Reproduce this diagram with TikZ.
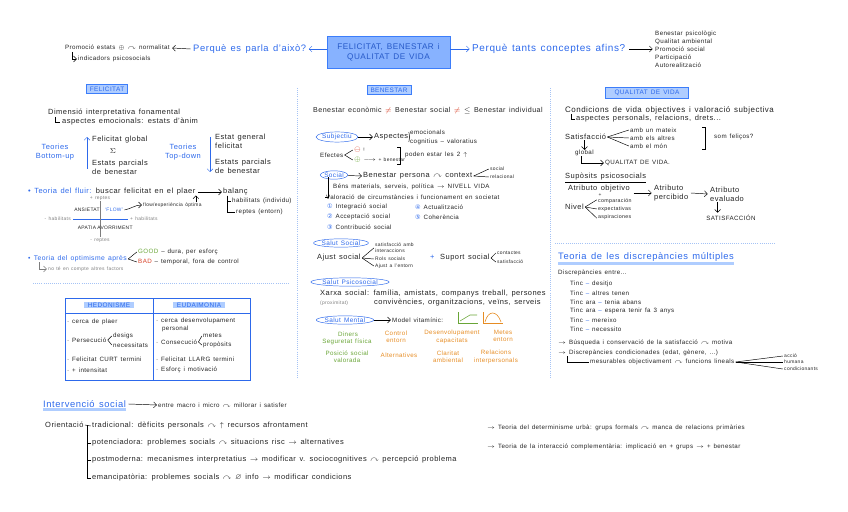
\documentclass[tikz,border=0pt]{standalone}
\usepackage{amssymb}
\usepackage{fontspec}
\setmainfont{Liberation Sans}[LetterSpace=6, WordSpace=1.4]
\newfontfamily\symfont{DejaVu Sans}
\usetikzlibrary{arrows.meta,positioning,shapes.geometric}
\definecolor{penblue}{RGB}{45,105,235}
\definecolor{boxblue}{RGB}{60,125,250}
\definecolor{titleblue}{RGB}{135,178,255}
\definecolor{hlblue}{RGB}{175,205,255}
\definecolor{sepblue}{RGB}{165,195,245}
\definecolor{greenpen}{RGB}{105,165,55}
\definecolor{orangepen}{RGB}{230,140,35}
\definecolor{redpen}{RGB}{215,65,40}
\definecolor{graypen}{RGB}{125,125,125}
\definecolor{inkblack}{RGB}{35,35,35}
\newcommand{\nx}{$\curvearrowright$}
\newcommand{\cnum}[1]{{\symfont\color{penblue}#1}}

\begin{document}
\begin{tikzpicture}[x=0.03cm, y=-0.03cm, text=inkblack,
	txt/.style={anchor=west, inner sep=0pt, font=\fontsize{6.4}{7.4}\selectfont, align=left},
	sm/.style={txt, font=\fontsize{5.3}{6.3}\selectfont},
	xs/.style={txt, font=\fontsize{4.2}{5}\selectfont},
	pen/.style={txt, text=penblue},
	big/.style={pen, font=\fontsize{8}{9}\selectfont},
	hdr/.style={draw=boxblue, fill=hlblue, text=penblue, inner xsep=3pt, inner ysep=2pt, font=\fontsize{5.5}{6}\selectfont, line width=0.6pt},
	oval/.style={ellipse, draw=penblue, text=penblue, inner xsep=0pt, inner ysep=0.5pt, font=\fontsize{5.5}{6}\selectfont},
	arr/.style={-{Straight Barb[length=2.5pt]}, line width=0.4pt},
	ln/.style={line width=0.4pt},
	sep/.style={draw=sepblue, densely dotted, line width=0.8pt}
]
\useasboundingbox (0,0) rectangle (848,512);

% top line
\node[draw=boxblue, fill=titleblue, text=penblue!85!black, line width=0.8pt, minimum width=3.69cm, minimum height=0.96cm, align=center, font=\fontsize{7}{8.5}\selectfont] (title) at (388.5,52) {FELICITAT, BENESTAR i\\QUALITAT DE VIDA};
\node[big] (whyQ) at (193,49) {Perquè es parla d'això?};
\node[sm] (promo) at (65,48) {Promoció estats $\oplus$ \nx{} normalitat};
\node[sm] (indic) at (78,59) {indicadors psicosocials};
\node[big, font=\fontsize{8.5}{9}\selectfont] (manyQ) at (472,49) {Perquè tants conceptes afins?};
\node[sm, font=\fontsize{5.3}{6.8}\selectfont] (concepts) at (655,49) {Benestar psicològic\\Qualitat ambiental\\Promoció social\\Participació\\Autorealització};
\draw[arr, penblue] (title.west |- whyQ.east) -- ([xshift=2pt]whyQ.east);
\draw[arr] ([xshift=-2pt]whyQ.west) -- ([xshift=2pt]promo.east);
\draw[arr] (72,52) |- ([xshift=-1pt]indic.west);
\draw[arr, penblue] (title.east |- manyQ.west) -- ([xshift=-2pt]manyQ.west);
\draw[arr] ([xshift=3pt]manyQ.east) -- ([xshift=-2pt]concepts.west);

% separators
\draw[sep] (297,88) -- (297,378);
\draw[sep] (550,88) -- (550,378);
\draw[sep] (33,283) -- (290,283);
\draw[sep] (555,243) -- (775,243);

% FELICITAT
\node[hdr] (felHdr) at (107,89) {FELICITAT};
\node[txt] (dimInt) at (48,113) {Dimensió interpretativa fonamental};
\node[txt] (aspEmo) at (62,122) {aspectes emocionals: estats d'ànim};
\draw[ln] ([xshift=6pt]dimInt.south west) |- ([xshift=-2pt]aspEmo.west);
\node[pen, anchor=center, align=center] (teoBU) at (55,152) {Teories\\Bottom-up};
\node[pen, anchor=center, align=center] (teoTD) at (183,152) {Teories\\Top-down};
\coordinate (buBot) at (87,169);
\coordinate (buTop) at (87,137);
\draw[arr, penblue] (buBot) -- (buTop);
\node[txt] (felGlob) at (92,140) {Felicitat global};
\node[txt, anchor=center] (sigma) at (113,151) {$\Sigma$};
\node[txt] (estParcA) at (92,167) {Estats parcials\\de benestar};
\coordinate (tdTop) at (210,137);
\coordinate (tdBot) at (210,172);
\draw[arr, penblue] (tdTop) -- (tdBot);
\node[txt] (estGen) at (215,141) {Estat general\\felicitat};
\node[txt] (estParcB) at (215,166) {Estats parcials\\de benestar};

\node[txt] (flow) at (28,192) {{\color{penblue}• Teoria del fluir:} buscar felicitat en el plaer};
\node[txt] (balanc) at (223,192) {balanç};
\draw[arr] ([xshift=2pt]flow.east) -- ([xshift=-1pt]balanc.west);
\node[sm] (habil) at (232,201) {habilitats (individu)};
\node[sm] (reptes) at (236,212) {reptes (entorn)};
\draw[ln] ([xshift=4pt]balanc.south west) |- ([xshift=-1pt]habil.west);
\draw[ln] ([xshift=4pt]balanc.south west) |- ([xshift=-1pt]reptes.west);
\node[xs] (flowExp) at (143,205) {flow/experiència òptima};
\draw[arr] ([xshift=-5pt]flowExp.north east) -- ++(0,-7);
% quadrants
\draw[penblue, line width=0.5pt] (73,219) -- (128,219);
\draw[graypen, line width=0.5pt] (100,201) -- (100,237);
\node[xs, anchor=center, text=graypen] (repMes) at (100,198) {+ reptes};
\node[xs, anchor=center, text=graypen] (repMenys) at (100,240) {- reptes};
\node[xs, anchor=east, text=graypen] (habMenys) at (71,219) {- habilitats};
\node[xs, text=graypen] (habMes) at (130,219) {+ habilitats};
\node[xs, anchor=center] (ansiet) at (87,210) {ANSIETAT};
\node[xs, anchor=center, text=penblue] (flowQ) at (114,210) {`FLOW'};
\node[xs, anchor=center] (apatia) at (87,228) {APATIA};
\node[xs, anchor=center] (avorr) at (115,228) {AVORRIMENT};
\draw[arr] ([xshift=1pt]flowQ.east) to[out=10, in=180] ([xshift=-1pt]flowExp.west);

\node[pen, font=\fontsize{5.8}{7}\selectfont] (optim) at (28,259) {• Teoria del optimisme après};
\node[sm] (good) at (138,252) {{\color{greenpen}GOOD} – dura, per esforç};
\node[sm] (bad) at (138,262) {{\color{redpen}BAD} – temporal, fora de control};
\draw[ln] ([xshift=1pt]optim.east) -- ([xshift=-1pt]good.west);
\draw[ln] ([xshift=1pt]optim.east) -- ([xshift=-1pt]bad.west);
\node[xs, text=graypen] (factors) at (48,269) {no té en compte altres factors};
\draw[arr, graypen] ([xshift=10pt]optim.south west) |- ([xshift=-1pt]factors.west);

% taula
\draw[penblue, line width=0.6pt] (65,298) rectangle (250,380);
\draw[penblue, line width=0.6pt] (153,298) -- (153,380);
\draw[penblue, line width=0.6pt] (65,313) -- (250,313);
\node[hdr, draw=none, inner ysep=1pt] (hedon) at (109,305) {HEDONISME};
\node[hdr, draw=none, inner ysep=1pt] (eudai) at (199,305) {EUDAIMONIA};
\node[sm] (hA) at (67,322) {· cerca de plaer};
\node[sm] (hB) at (67,340) {· Persecució};
\node[sm] (hBd) at (113,336) {desigs};
\node[sm] (hBn) at (113,345) {necessitats};
\draw[ln] ([xshift=1pt]hB.east) -- ([xshift=-1pt]hBd.west);
\draw[ln] ([xshift=1pt]hB.east) -- ([xshift=-1pt]hBn.west);
\node[sm] (hC) at (67,359) {· Felicitat CURT termini};
\node[sm] (hD) at (67,370) {· + intensitat};
\node[sm] (eA) at (156,325) {· cerca desenvolupament\\\ \ personal};
\node[sm] (eB) at (156,342) {· Consecució};
\node[sm] (eBm) at (203,336) {metes};
\node[sm] (eBp) at (203,345) {propòsits};
\draw[ln] ([xshift=1pt]eB.east) -- ([xshift=-1pt]eBm.west);
\draw[ln] ([xshift=1pt]eB.east) -- ([xshift=-1pt]eBp.west);
\node[sm] (eC) at (156,359) {· Felicitat LLARG termini};
\node[sm] (eD) at (156,370) {· Esforç i motivació};

% BENESTAR
\node[hdr] (benHdr) at (389,90) {BENESTAR};
\node[txt, font=\fontsize{6.1}{7}\selectfont] (benEco) at (313,111) {Benestar econòmic {\color{redpen}$\neq$} Benestar social {\color{redpen}$\neq$} $\leq$ Benestar individual};
\node[oval] (subj) at (337,137) {Subjectiu};
\node[txt] (aspec) at (374,137) {Aspectes};
\node[sm] (emo) at (410,132) {emocionals};
\node[sm] (cog) at (410,142) {cognitius – valoratius};
\draw[arr] (subj) -- ([xshift=-1pt]aspec.west);
\draw[ln] ([xshift=1pt]aspec.east) -- ([xshift=-1pt]emo.west);
\draw[ln] ([xshift=1pt]aspec.east) -- ([xshift=-1pt]cog.west);
\node[sm] (efect) at (320,155) {Efectes};
\node[xs] (eNeg) at (354,150) {{\color{redpen}\fontsize{6}{6}\selectfont$\ominus$} !};
\node[xs] (ePos) at (354,160) {{\color{greenpen}\fontsize{6}{6}\selectfont$\oplus$} $\longrightarrow$ + benestar};
\draw[ln] ([xshift=1pt]efect.east) -- ([xshift=-1pt]eNeg.west);
\draw[ln] ([xshift=1pt]efect.east) -- ([xshift=-1pt]ePos.west);
\draw[ln] (397,147) -- (400,147) -- (400,164) -- (397,164);
\node[sm] (poden) at (405,155) {poden estar les 2 $\uparrow$};
\node[oval] (social) at (334,175) {Social};
\node[txt] (persCtx) at (363,176) {Benestar persona \nx{} context};
\node[xs] (sSoc) at (490,169) {social};
\node[xs] (sRel) at (490,177) {relacional};
\draw[arr] (social) -- ([xshift=-1pt]persCtx.west);
\draw[ln] ([xshift=1pt]persCtx.east) -- ([xshift=-1pt]sSoc.west);
\draw[ln] ([xshift=1pt]persCtx.east) -- ([xshift=-1pt]sRel.west);
\node[sm] (bens) at (333,187) {Béns materials, serveis, política $\rightarrow$ NIVELL VIDA};
\node[sm] (valor) at (326,197) {Valoració de circumstàncies i funcionament en societat};
\draw[ln] (social.south west) ++(4,-1) |- ([xshift=-1pt]valor.west);
\node[sm] (nA) at (327,207) {\cnum{①} Integració social};
\node[sm] (nB) at (327,217) {\cnum{②} Acceptació social};
\node[sm] (nC) at (327,227) {\cnum{③} Contribució social};
\node[sm] (nD) at (415,207) {\cnum{④} Actualització};
\node[sm] (nE) at (415,217) {\cnum{⑤} Coherència};

\node[oval] (salSoc) at (341,243) {Salut Social};
\node[txt] (ajust) at (317,258) {Ajust social};
\node[xs] (satInt) at (375,248) {satisfacció amb\\interaccions};
\node[xs] (rols) at (375,259) {Rols socials};
\node[xs] (ajEnt) at (375,266) {Ajust a l'entorn};
\draw[ln] ([xshift=1pt]ajust.east) -- ([xshift=-1pt]satInt.west);
\draw[ln] ([xshift=1pt]ajust.east) -- ([xshift=-1pt]rols.west);
\draw[ln] ([xshift=1pt]ajust.east) -- ([xshift=-1pt]ajEnt.west);
\node[pen] (plus) at (430,257) {+};
\node[txt] (suport) at (440,258) {Suport social};
\node[xs] (contac) at (497,253) {contactes};
\node[xs] (satisf) at (497,262) {satisfacció};
\draw[ln] ([xshift=1pt]suport.east) -- ([xshift=-1pt]contac.west);
\draw[ln] ([xshift=1pt]suport.east) -- ([xshift=-1pt]satisf.west);

\node[oval] (salPsi) at (350,282) {Salut Psicosocial};
\node[txt] (xarxa) at (320,294) {Xarxa social: família, amistats, companys treball, persones};
\node[xs, text=graypen] (prox) at (320,303) {(proximitat)};
\node[txt] (conv) at (374,303) {convivències, organitzacions, veïns, serveis};

\node[oval] (salMen) at (345,320) {Salut Mental};
\node[sm] (model) at (392,320) {Model vitamínic:};
\draw[arr] (salMen) -- ([xshift=-1pt]model.west);
\draw[greenpen, line width=0.5pt] (458,312) -- (458,323) -- (478,323);
\draw[greenpen, line width=0.5pt] (460,321) -- (470,315) -- (477,315);
\draw[orangepen, line width=0.5pt] (483,312) -- (483,323) -- (503,323);
\draw[orangepen, line width=0.5pt] (485,322) .. controls (488,310) and (497,310) .. (501,322);
\begin{scope}[every node/.style={sm, anchor=center, align=center}]
	\node[text=greenpen] (diners) at (348,334) {Diners};
	\node[text=greenpen] (segur) at (347,342) {Seguretat física};
	\node[text=greenpen] (posic) at (347,357) {Posició social\\valorada};
	\node[text=orangepen] (contr) at (396,337) {Control\\entorn};
	\node[text=orangepen] (desen) at (452,337) {Desenvolupament\\capacitats};
	\node[text=orangepen] (metes) at (503,336) {Metes\\entorn};
	\node[text=orangepen] (altern) at (399,355) {Alternatives};
	\node[text=orangepen] (clar) at (448,357) {Claritat\\ambiental};
	\node[text=orangepen] (relac) at (496,357) {Relacions\\interpersonals};
\end{scope}

% QUALITAT DE VIDA
\node[hdr, minimum width=2.49cm] (qvHdr) at (647,93) {QUALITAT DE VIDA};
\node[txt, font=\fontsize{6.8}{8}\selectfont] (cond) at (565,110) {Condicions de vida objectives i valoració subjectiva};
\node[txt] (aspP) at (576,119) {aspectes personals, relacions, drets...};
\draw[ln] ([xshift=5pt]cond.south west) |- ([xshift=-1pt]aspP.west);
\node[txt] (satQ) at (565,137) {Satisfacció};
\node[sm] (mat) at (630,130) {amb un mateix};
\node[sm] (alt) at (630,138) {amb els altres};
\node[sm] (mon) at (630,146) {amb el món};
\draw[ln] ([xshift=1pt]satQ.east) -- ([xshift=-1pt]mat.west);
\draw[ln] ([xshift=1pt]satQ.east) -- ([xshift=-1pt]alt.west);
\draw[ln] ([xshift=1pt]satQ.east) -- ([xshift=-1pt]mon.west);
\draw[ln] (702,127) -- (705,127) -- (705,149) -- (702,149);
\node[sm] (feli) at (714,137) {som feliços?};
\node[sm] (globalQ) at (575,153) {global};
\draw[arr] (globalQ.north |- satQ.south) -- (globalQ.north);
\node[sm] (qvText) at (605,163) {QUALITAT DE VIDA.};
\draw[arr] ([xshift=-3pt]globalQ.south) |- ([xshift=-1pt]qvText.west);
\node[txt] (supo) at (565,177) {Supòsits psicosocials};
\draw[ln] ([yshift=-1pt]supo.south west) -- ([yshift=-1pt]supo.south east);
\node[txt] (atObj) at (568,189) {Atributo objetivo};
\node[xs, anchor=center] (plusA) at (600,195.5) {+};
\node[txt] (nivel) at (565,207) {Nivel};
\node[xs, font=\fontsize{4.5}{6.5}\selectfont] (comp) at (598,209) {comparación\\expectativas\\aspiraciones};
\draw[ln] ([xshift=1pt]nivel.east) -- ([xshift=-1pt]comp.west);
\draw[ln] ([xshift=1pt]nivel.east) -- ([xshift=-1pt,yshift=-1pt]comp.north west);
\draw[ln] ([xshift=1pt]nivel.east) -- ([xshift=-1pt,yshift=1pt]comp.south west);
\node[txt] (atPer) at (654,193) {Atributo\\percibido};
\node[txt] (atEval) at (710,194) {Atributo\\evaluado};
\draw[arr] ([xshift=3pt]atObj.east |- atPer.west) -- ([xshift=-2pt]atPer.west);
\draw[arr] ([xshift=2pt]atPer.east) -- ([xshift=-2pt]atEval.west);
\node[sm, anchor=center] (satisfac) at (731,218) {SATISFACCIÓN};
\draw[arr] ([xshift=-8pt,yshift=-1pt]atEval.south) -- ([xshift=-8pt,yshift=2pt]atEval.south |- satisfac.north);

% discrepancies
\node[big] (disc) at (558,257) {Teoria de les discrepàncies múltiples};
\draw[hlblue, line width=2.5pt] ([yshift=-1.5pt]disc.south west) -- ([yshift=-1.5pt]disc.south east);
\node[sm] (dEntre) at (558,273) {Discrepàncies entre...};
\node[sm] (tA) at (570,284) {Tinc {\color{penblue}–} desitjo};
\node[sm] (tB) at (570,293) {Tinc {\color{penblue}–} altres tenen};
\node[sm] (tC) at (570,302) {Tinc ara {\color{penblue}–} tenia abans};
\node[sm] (tD) at (570,311) {Tinc ara {\color{penblue}–} espera tenir fa 3 anys};
\node[sm] (tE) at (570,320) {Tinc {\color{penblue}–} mereixo};
\node[sm] (tF) at (570,329) {Tinc {\color{penblue}–} necessito};
\node[sm] (bA) at (558,343) {$\rightarrow$ Búsqueda i conservació de la satisfacció \nx{} motiva};
\node[sm] (bB) at (558,353) {$\rightarrow$ Discrepàncies condicionades (edat, gènere, ...)};
\node[sm] (bC) at (590,362) {mesurables objectivament \nx{} funcions lineals};
\draw[ln] ([xshift=8pt]bB.south west) |- ([xshift=-1pt]bC.west);
\node[xs] (accio) at (784,356) {acció};
\node[xs] (humana) at (784,362) {humana};
\node[xs] (condic) at (784,369) {condicionants};
\draw[ln] ([xshift=1pt]bC.east) -- ([xshift=-1pt]accio.west);
\draw[ln] ([xshift=1pt]bC.east) -- ([xshift=-1pt]humana.west);
\draw[ln] ([xshift=1pt]bC.east) -- ([xshift=-1pt]condic.west);

% intervencio social
\node[big] (interv) at (43,404) {Intervenció social};
\draw[hlblue, line width=2.5pt] ([yshift=-1.5pt]interv.south west) -- ([yshift=-1.5pt]interv.south east);
\node[sm] (macro) at (158,405) {entre macro i micro \nx{} millorar i satisfer};
\draw[arr] ([xshift=2pt]interv.east) -- ([xshift=-1pt]macro.west);
\node[txt] (orient) at (45,425) {Orientació};
\node[txt] (trad) at (92,426) {tradicional: dèficits personals \nx{} $\uparrow$ recursos afrontament};
\node[txt] (pot) at (92,443) {potenciadora: problemes socials \nx{} situacions risc $\rightarrow$ alternatives};
\node[txt] (post) at (92,460) {postmoderna: mecanismes interpretatius $\rightarrow$ modificar v. sociocognitives \nx{} percepció problema};
\node[txt] (eman) at (92,478) {emancipatòria: problemes socials \nx{} $\varnothing$ info $\rightarrow$ modificar condicions};
\draw[ln] ([xshift=1pt]orient.east) -- ([xshift=-1pt]trad.west);
\draw[ln] (87,425) |- ([xshift=-1pt]pot.west);
\draw[ln] (87,425) |- ([xshift=-1pt]post.west);
\draw[ln] (87,425) |- ([xshift=-1pt]eman.west);
\node[sm] (urba) at (487,428) {$\rightarrow$ Teoria del determinisme urbà: grups formals \nx{} manca de relacions primàries};
\node[sm] (compl) at (487,447) {$\rightarrow$ Teoria de la interacció complementària: implicació en + grups $\rightarrow$ + benestar};
\end{tikzpicture}
\end{document}
